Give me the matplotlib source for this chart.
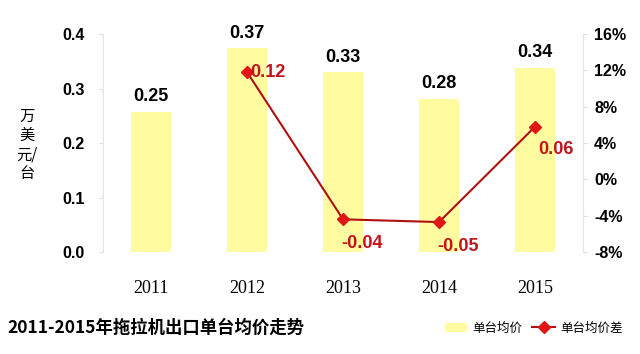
"""Tractor export average unit price 2011-2015, bars + difference line on twin axis."""

import matplotlib

matplotlib.use("Agg")
import matplotlib.pyplot as plt
from matplotlib.ticker import FuncFormatter

YEARS: list[str] = ["2011", "2012", "2013", "2014", "2015"]
UNIT_PRICE: list[float] = [0.257, 0.374, 0.330, 0.281, 0.338]
PRICE_LABELS: list[str] = ["0.25", "0.37", "0.33", "0.28", "0.34"]
DIFF_YEARS: list[str] = ["2012", "2013", "2014", "2015"]
PRICE_DIFF: list[float] = [0.118, -0.044, -0.047, 0.058]
DIFF_LABELS: list[str] = ["0.12", "-0.04", "-0.05", "0.06"]

BAR_COLOUR = "#FFFBA0"
LINE_COLOUR = "#B01010"
MARKER_COLOUR = "#E01515"
CJK = ["Noto Sans CJK SC", "DejaVu Sans"]
ARIAL = "Liberation Sans"

fig = plt.figure(figsize=(6.4, 3.54), dpi=100)
ax = fig.add_axes((0.161, 0.288, 0.75, 0.616))
ax2 = ax.twinx()

x = list(range(len(YEARS)))
bars = ax.bar(x, UNIT_PRICE, width=0.42, color=BAR_COLOUR, zorder=1)
for xi, v, lab in zip(x, UNIT_PRICE, PRICE_LABELS):
    ax.text(xi, v + 0.012, lab, ha="center", va="bottom", fontsize=13,
            fontweight="bold", family=ARIAL, color="black")

dx = [YEARS.index(y) for y in DIFF_YEARS]
ax2.plot(dx, PRICE_DIFF, color=LINE_COLOUR, linewidth=1.5, marker="D",
         markersize=6, markerfacecolor=MARKER_COLOUR, markeredgecolor=MARKER_COLOUR,
         zorder=3)
offsets = [(0.22, 0.0), (0.2, -0.027), (0.2, -0.027), (0.22, -0.025)]
for xi, v, lab, (ox, oy) in zip(dx, PRICE_DIFF, DIFF_LABELS, offsets):
    ax2.text(xi + ox, v + oy, lab, ha="center", va="center", fontsize=13,
             fontweight="bold", family=ARIAL, color="#C0151B")

ax.set_xlim(-0.5, 4.5)
ax.set_ylim(0, 0.4)
ax.set_yticks([0.0, 0.1, 0.2, 0.3, 0.4])
ax.yaxis.set_major_formatter(FuncFormatter(lambda v, _: f"{v:.1f}"))
ax2.set_ylim(-0.08, 0.16)
ax2.set_yticks([-0.08, -0.04, 0.0, 0.04, 0.08, 0.12, 0.16])
ax2.yaxis.set_major_formatter(FuncFormatter(lambda v, _: f"{v * 100:.0f}%"))

ax.set_xticks(x)
ax.set_xticklabels(YEARS, family="Liberation Serif", fontsize=13)
ax.tick_params(axis="x", length=0, pad=20)
ax.tick_params(axis="y", length=3, color="#DDDDDD", pad=10)
ax2.tick_params(axis="y", length=3, color="#DDDDDD", pad=5)
for a in (ax, ax2):
    for lab in a.get_yticklabels():
        lab.set_fontweight("bold")
        lab.set_family(ARIAL)
        lab.set_fontsize(11.5)

for a in (ax, ax2):
    a.spines["top"].set_visible(False)
    a.spines["bottom"].set_visible(False)
    a.spines["left"].set_color("#E4E4E4")
    a.spines["right"].set_color("#E4E4E4")

fig.text(0.042, 0.59, "万\n美\n元/\n台", ha="center", va="center", fontsize=11,
         family=CJK, linespacing=1.15)

fig.text(0.012, 0.073, "2011-2015年拖拉机出口单台均价走势", ha="left", va="center",
         fontsize=12.5, fontweight="bold", family=CJK)

handles = [bars, ax2.get_lines()[0]]
leg = fig.legend(handles, ["单台均价", "单台均价差"], loc="center right",
                 bbox_to_anchor=(0.99, 0.073), ncol=2, frameon=False,
                 prop={"family": CJK, "size": 9}, handlelength=1.8,
                 columnspacing=0.8, handletextpad=0.4)

fig.savefig("out.png", dpi=100)
plt.close(fig)
